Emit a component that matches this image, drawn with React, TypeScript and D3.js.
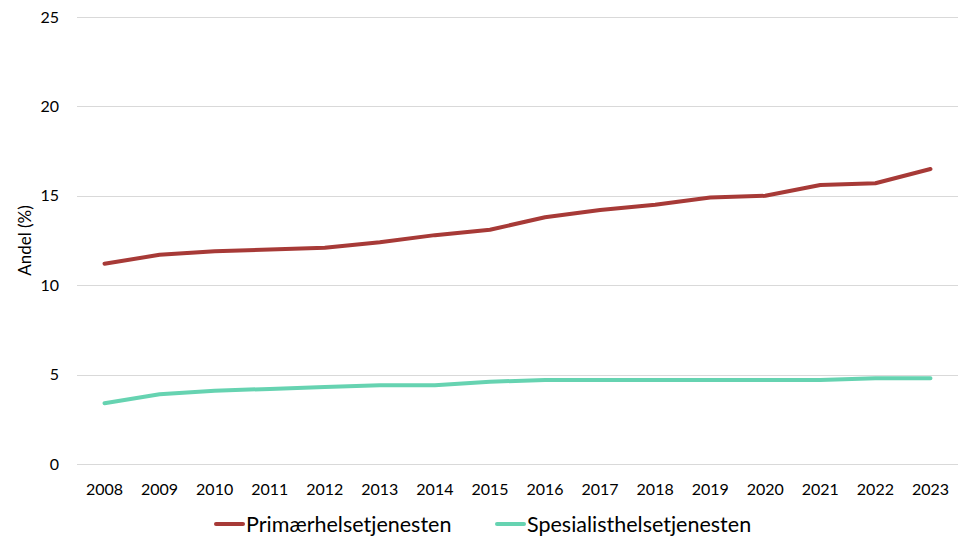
import React, { useEffect, useRef } from "react";
import * as d3 from "d3";

const years = ["2008", "2009", "2010", "2011", "2012", "2013", "2014", "2015", "2016", "2017", "2018", "2019", "2020", "2021", "2022", "2023"];
const primaer = [11.2, 11.7, 11.9, 12.0, 12.1, 12.4, 12.8, 13.1, 13.8, 14.2, 14.5, 14.9, 15.0, 15.6, 15.7, 16.5];
const spesialist = [3.4, 3.9, 4.1, 4.2, 4.3, 4.4, 4.4, 4.6, 4.7, 4.7, 4.7, 4.7, 4.7, 4.7, 4.8, 4.8];
const yTicks = [0, 5, 10, 15, 20, 25];
const seriesNames = ["Primærhelsetjenesten", "Spesialisthelsetjenesten"];
const seriesColors = ["#A73A37", "#66D3B1"];

const W = 970;
const H = 550;
const FONT = "Lato, 'Open Sans', sans-serif";

export default function App() {
    const svgRef = useRef<SVGSVGElement>(null);

    useEffect(() => {
        const margin = { top: 17, right: 12, bottom: 86, left: 77 };
        const innerWidth = W - margin.left - margin.right;
        const innerHeight = H - margin.top - margin.bottom;

        const svg = d3.select(svgRef.current);
        svg.selectAll("*").remove();

        const g = svg.append("g").attr("transform", `translate(${margin.left},${margin.top})`);

        const x = d3.scaleBand().domain(years).range([0, innerWidth]).padding(0);
        const y = d3.scaleLinear().domain([0, 25]).range([innerHeight, 0]);

        // gridlines
        g.append("g")
            .selectAll("line")
            .data(yTicks)
            .join("line")
            .attr("x1", 0)
            .attr("x2", innerWidth)
            .attr("y1", (d) => Math.round(y(d)) + 0.5)
            .attr("y2", (d) => Math.round(y(d)) + 0.5)
            .attr("stroke", "#d9d9d9")
            .attr("stroke-width", 1);

        // y tick labels
        g.append("g")
            .selectAll("text")
            .data(yTicks)
            .join("text")
            .attr("x", -18)
            .attr("y", (d) => y(d))
            .attr("dy", "0.35em")
            .attr("text-anchor", "end")
            .attr("font-family", FONT)
            .attr("font-size", 16)
            .attr("fill", "#000")
            .text((d) => d);

        // x tick labels
        g.append("g")
            .selectAll("text")
            .data(years)
            .join("text")
            .attr("x", (d) => x(d)! + x.bandwidth() / 2)
            .attr("y", innerHeight + 25)
            .attr("dy", "0.35em")
            .attr("text-anchor", "middle")
            .attr("font-family", FONT)
            .attr("font-size", 16)
            .attr("fill", "#000")
            .text((d) => d);

        // y axis title
        svg.append("text")
            .attr("transform", `translate(31,${margin.top + innerHeight / 2}) rotate(-90)`)
            .attr("text-anchor", "middle")
            .attr("font-family", FONT)
            .attr("font-size", 17)
            .attr("fill", "#000")
            .text("Andel (%)");

        // lines
        const line = d3
            .line<number>()
            .x((_, i) => x(years[i])! + x.bandwidth() / 2)
            .y((d) => y(d));

        [primaer, spesialist].forEach((vals, i) => {
            g.append("path")
                .datum(vals)
                .attr("fill", "none")
                .attr("stroke", seriesColors[i])
                .attr("stroke-width", 4)
                .attr("stroke-linejoin", "round")
                .attr("stroke-linecap", "round")
                .attr("d", line);
        });

        // legend
        const legendX = [216, 497];
        const legendY = 524;
        seriesNames.forEach((name, i) => {
            const lg = svg.append("g").attr("transform", `translate(${legendX[i]},${legendY})`);
            lg.append("line")
                .attr("x1", 0)
                .attr("x2", 27)
                .attr("y1", 0)
                .attr("y2", 0)
                .attr("stroke", seriesColors[i])
                .attr("stroke-width", 4)
                .attr("stroke-linecap", "round");
            lg.append("text")
                .attr("x", 30)
                .attr("y", 0)
                .attr("dy", "0.35em")
                .attr("font-family", FONT)
                .attr("font-size", 21.5)
                .attr("fill", "#000")
                .text(name);
        });
    }, []);

    return <svg ref={svgRef} width={W} height={H} style={{ position: "absolute", left: 0, top: 0, background: "#fff" }} />;
}
